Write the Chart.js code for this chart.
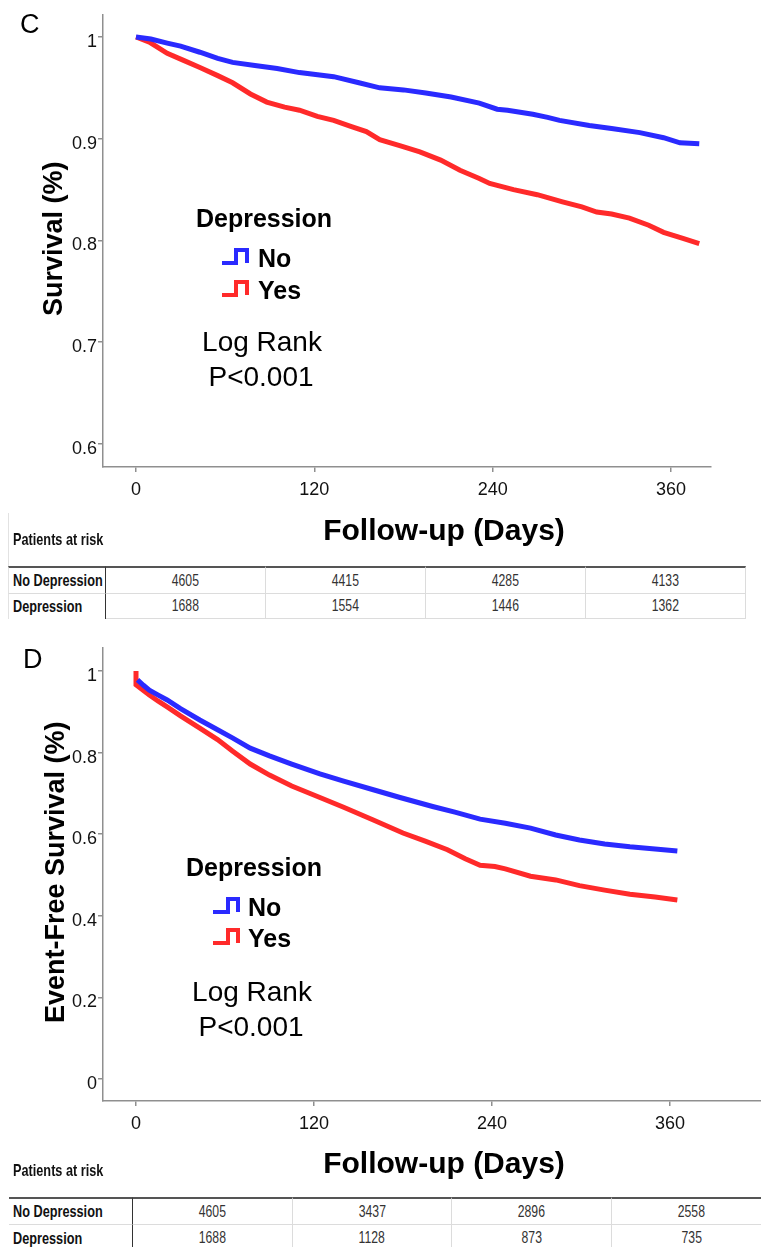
<!DOCTYPE html>
<html>
<head>
<meta charset="utf-8">
<script src="https://cdn.jsdelivr.net/npm/chart.js@4.4.0/dist/chart.umd.min.js"></script>
<style>
  html, body { margin: 0; padding: 0; background: #fff; }
  body { width: 761px; height: 1247px; position: relative; overflow: hidden; font-family: Arial, "Liberation Sans", sans-serif; }
  canvas { position: absolute; left: 0; }
  #canvas-c { top: 0; }
  #canvas-d { top: 630px; }
  .risk { position: absolute; }
  .risk .cell { position: absolute; box-sizing: border-box; display: flex; align-items: center; white-space: nowrap; }
  .risk .lab span { display: inline-block; font-weight: bold; font-size: 16.5px; color: #111; transform: scaleX(0.77); transform-origin: left center; }
  .risk .num { justify-content: center; }
  .risk .num span { display: inline-block; font-size: 16.5px; color: #333; transform: scaleX(0.74); }
</style>
</head>
<body>
<canvas id="canvas-c" width="761" height="560"></canvas>
<canvas id="canvas-d" width="761" height="560"></canvas>
<div id="table-c" class="risk"></div>
<div id="table-d" class="risk"></div>

<script>
// Kaplan-Meier curves, panels C and D

// Panel C - survival
const daysNoC = [0, 10, 21, 30, 43, 55, 65, 80, 95, 110, 133, 150, 164, 180, 195, 212, 231, 243, 250, 267, 277, 285, 305, 320, 339, 355, 366, 379];
const survNoC = [1.0, 0.998, 0.994, 0.991, 0.985, 0.979, 0.975, 0.972, 0.969, 0.965, 0.961, 0.955, 0.950, 0.948, 0.945, 0.941, 0.935, 0.929, 0.928, 0.924, 0.921, 0.918, 0.913, 0.910, 0.906, 0.901, 0.896, 0.895];
const daysYesC = [0, 9, 21, 32, 43, 55, 65, 77, 88, 100, 110, 122, 133, 145, 155, 164, 178, 191, 205, 218, 231, 238, 254, 270, 287, 300, 310, 320, 332, 345, 355, 368, 379];
const survYesC = [1.0, 0.995, 0.984, 0.977, 0.970, 0.962, 0.955, 0.944, 0.936, 0.931, 0.928, 0.922, 0.918, 0.912, 0.907, 0.899, 0.893, 0.887, 0.879, 0.869, 0.861, 0.856, 0.850, 0.845, 0.838, 0.833, 0.828, 0.826, 0.822, 0.815, 0.808, 0.802, 0.797];

// Panel D - event-free survival
const daysNoD = [1, 5, 9, 15, 21, 30, 43, 55, 65, 77, 90, 105, 124, 140, 160, 178, 200, 215, 232, 249, 266, 283, 299, 316, 333, 350, 365];
const survNoD = [0.978, 0.965, 0.953, 0.941, 0.929, 0.908, 0.880, 0.856, 0.836, 0.811, 0.792, 0.772, 0.748, 0.730, 0.709, 0.690, 0.668, 0.654, 0.637, 0.627, 0.615, 0.598, 0.586, 0.576, 0.569, 0.564, 0.559];
const daysYesD = [0, 0, 9, 15, 21, 30, 43, 55, 65, 77, 90, 105, 124, 140, 160, 180, 195, 210, 222, 232, 242, 249, 266, 283, 299, 316, 333, 350, 365];
const survYesD = [1.0, 0.966, 0.941, 0.926, 0.912, 0.890, 0.860, 0.832, 0.804, 0.772, 0.745, 0.718, 0.690, 0.666, 0.635, 0.603, 0.583, 0.562, 0.540, 0.524, 0.521, 0.515, 0.497, 0.488, 0.474, 0.463, 0.453, 0.446, 0.439];

// Axis ticks
const xTicks = [0, 120, 240, 360];
const xTickLabels = ['0', '120', '240', '360'];
const yTicksC = [0.6, 0.7, 0.8, 0.9, 1];
const yTickLabelsC = ['0.6', '0.7', '0.8', '0.9', '1'];
const yTicksD = [0, 0.2, 0.4, 0.6, 0.8, 1];
const yTickLabelsD = ['0', '0.2', '0.4', '0.6', '0.8', '1'];

// Patients at risk
const riskRows = ['No Depression', 'Depression'];
const riskNoC = [4605, 4415, 4285, 4133];
const riskYesC = [1688, 1554, 1446, 1362];
const riskNoD = [4605, 3437, 2896, 2558];
const riskYesD = [1688, 1128, 873, 735];

const BLUE = '#2a2aff';
const RED = '#ff2a2a';
const AXIS = '#8f8f8f';
const FONT = 'Arial, "Liberation Sans", sans-serif';

function toPoints(days, vals) {
    return days.map((d, i) => ({ x: d, y: vals[i] }));
}

// Text, legend and axis titles drawn on top of the chart
const notesPlugin = {
    id: 'notes',
    afterDraw(chart, args, opts) {
        const ctx = chart.ctx;
        ctx.save();
        (opts.items || []).forEach(it => {
            if (it.path) {
                ctx.beginPath();
                ctx.strokeStyle = it.color;
                ctx.lineWidth = 4;
                ctx.lineJoin = 'miter';
                it.path.forEach((p, i) => i ? ctx.lineTo(p[0], p[1]) : ctx.moveTo(p[0], p[1]));
                ctx.stroke();
                return;
            }
            ctx.fillStyle = '#000';
            ctx.font = it.font + ' ' + FONT;
            ctx.textAlign = it.align || 'center';
            ctx.textBaseline = 'middle';
            if (it.rotate) {
                ctx.save();
                ctx.translate(it.x, it.y);
                ctx.rotate(-Math.PI / 2);
                ctx.fillText(it.text, 0, 0);
                ctx.restore();
            } else {
                ctx.fillText(it.text, it.x, it.y);
            }
        });
        ctx.restore();
    }
};

function makePanel(canvasId, cfg) {
    const ctx = document.getElementById(canvasId).getContext('2d');
    return new Chart(ctx, {
        type: 'line',
        data: {
            datasets: [
                { label: 'No', data: toPoints(cfg.daysNo, cfg.survNo), borderColor: BLUE, borderWidth: 5, pointRadius: 0, tension: 0, fill: false },
                { label: 'Yes', data: toPoints(cfg.daysYes, cfg.survYes), borderColor: RED, borderWidth: 5, pointRadius: 0, tension: 0, fill: false }
            ]
        },
        options: {
            responsive: false,
            animation: false,
            layout: { padding: { top: cfg.top, right: cfg.right, left: 0, bottom: 0 } },
            plugins: {
                legend: { display: false },
                tooltip: { enabled: false },
                notes: { items: cfg.notes }
            },
            scales: {
                x: {
                    type: 'linear',
                    min: cfg.xMin,
                    max: cfg.xMax,
                    afterBuildTicks: s => { s.ticks = xTicks.map(v => ({ value: v })); },
                    afterFit: s => { s.height = 560 - cfg.bottom; },
                    border: { color: AXIS, width: 1.5 },
                    grid: { drawOnChartArea: false, drawTicks: true, tickLength: 5, color: AXIS, lineWidth: 1.5 },
                    ticks: {
                        color: '#111',
                        padding: 7,
                        maxRotation: 0,
                        font: { family: FONT, size: 18 },
                        callback: (v, i) => xTickLabels[i]
                    }
                },
                y: {
                    type: 'linear',
                    min: cfg.yMin,
                    max: cfg.yMax,
                    afterBuildTicks: s => { s.ticks = cfg.yTicks.map(v => ({ value: v })); },
                    afterFit: s => { s.width = 103; },
                    border: { color: AXIS, width: 1.5 },
                    grid: { drawOnChartArea: false, drawTicks: true, tickLength: 5, color: AXIS, lineWidth: 1.5 },
                    ticks: {
                        color: '#111',
                        padding: 1,
                        labelOffset: 5,
                        font: { family: FONT, size: 18 },
                        callback: (v, i) => cfg.yTickLabels[i]
                    }
                }
            }
        },
        plugins: [notesPlugin]
    });
}

function legendNotes(o) {
    // o: positions of the legend block inside one panel (canvas coordinates)
    return [
        { text: 'Depression', x: o.cx, y: o.head, font: 'bold 25px' },
        { path: [[o.ix0, o.noY], [o.ix1, o.noY], [o.ix1, o.noY - 13], [o.ix2, o.noY - 13], [o.ix2, o.noY]], color: BLUE },
        { text: 'No', x: o.tx, y: o.noY - 3, font: 'bold 25px', align: 'left' },
        { path: [[o.ix0, o.yesY], [o.ix1, o.yesY], [o.ix1, o.yesY - 13], [o.ix2, o.yesY - 13], [o.ix2, o.yesY]], color: RED },
        { text: 'Yes', x: o.tx, y: o.yesY - 3, font: 'bold 25px', align: 'left' },
        { text: 'Log Rank', x: o.cx - 2, y: o.log, font: '28px' },
        { text: 'P<0.001', x: o.cx - 3, y: o.log + 35, font: '28px' }
    ];
}

// Panel C
makePanel('canvas-c', {
    daysNo: daysNoC, survNo: survNoC, daysYes: daysYesC, survYes: survYesC,
    xMin: -22.2, xMax: 386.9, yMin: 0.5774, yMax: 1.0216,
    yTicks: yTicksC, yTickLabels: yTickLabelsC,
    top: 15, right: 50, bottom: 467,
    notes: [
        { text: 'C', x: 20, y: 26, font: '27px', align: 'left' },
        { text: 'Survival (%)', x: 55, y: 316, font: 'bold 27px', align: 'left', rotate: true },
        { text: 'Follow-up (Days)', x: 444, y: 532, font: 'bold 30px' }
    ].concat(legendNotes({ cx: 264, head: 220, ix0: 222, ix1: 236, ix2: 247, tx: 258, noY: 263, yesY: 295, log: 343 }))
});

// Panel D (canvas starts at y=630)
makePanel('canvas-d', {
    daysNo: daysNoD, survNo: survNoD, daysYes: daysYesD, survYes: survYesD,
    xMin: -22.25, xMax: 421.4, yMin: -0.0539, yMax: 1.0564,
    yTicks: yTicksD, yTickLabels: yTickLabelsD,
    top: 18, right: 0, bottom: 471,
    notes: [
        { text: 'D', x: 23, y: 31, font: '27px', align: 'left' },
        { text: 'Event-Free Survival (%)', x: 57, y: 393, font: 'bold 27px', align: 'left', rotate: true },
        { text: 'Follow-up (Days)', x: 444, y: 535, font: 'bold 30px' }
    ].concat(legendNotes({ cx: 254, head: 239, ix0: 213, ix1: 228, ix2: 238, tx: 248, noY: 282, yesY: 313, log: 363 }))
});

// Patients at risk tables
function buildTable(id, t) {
    const el = document.getElementById(id);
    el.style.left = t.left + 'px';
    el.style.top = t.top + 'px';
    const total = t.firstW + t.colW * 4;
    let html = '';
    const add = (x, y, w, h, cls, text, style) => {
        html += `<div class="cell ${cls}" style="left:${x}px;top:${y}px;width:${w}px;height:${h}px;${style || ''}"><span>${text}</span></div>`;
    };
    // header row
    add(0, 0, total, t.headH, 'lab', 'Patients at risk', 'padding-left:4px;' + (t.leftLine ? 'border-left:1px solid #e2e2e2;' : ''));
    const rows = [t.no, t.yes];
    rows.forEach((vals, r) => {
        const y = t.headH + r * t.rowH;
        const topB = r === 0 ? 'border-top:2px solid #555;' : 'border-top:1px solid #dcdcdc;';
        const left = t.leftLine ? 'border-left:1px solid #e2e2e2;' : '';
        add(0, y, t.firstW, t.rowH, 'lab', riskRows[r], topB + left + 'padding-left:4px;border-right:1px solid #333;');
        vals.forEach((v, c) => {
            add(t.firstW + c * t.colW, y, t.colW, t.rowH, 'num', v, topB + 'border-right:1px solid #dcdcdc;' + (r === 1 ? 'border-bottom:1px solid #dcdcdc;' : ''));
        });
    });
    el.innerHTML = html;
}

buildTable('table-c', { left: 8, top: 513, headH: 53, rowH: 26.5, firstW: 98, colW: 160, no: riskNoC, yes: riskYesC, leftLine: true });
buildTable('table-d', { left: 9, top: 1143, headH: 54, rowH: 27, firstW: 124, colW: 159.7, no: riskNoD, yes: riskYesD, leftLine: false });
</script>
</body>
</html>
